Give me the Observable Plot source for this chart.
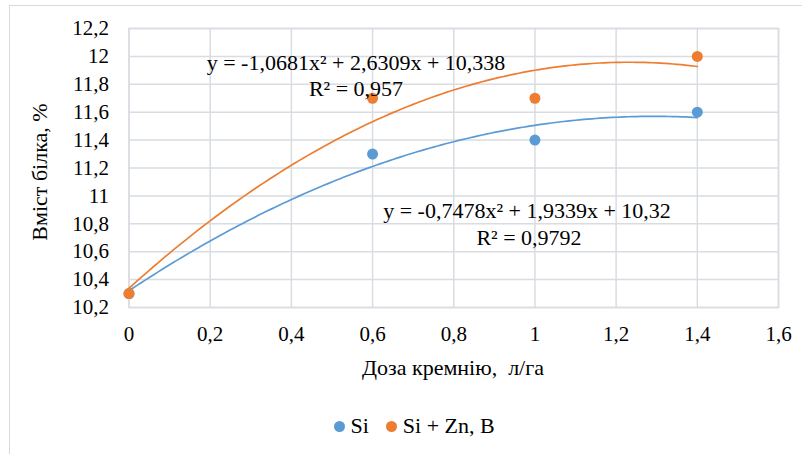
<!DOCTYPE html>
<html>
<head>
<meta charset="utf-8">
<script src="https://cdn.jsdelivr.net/npm/d3@7"></script>
<script src="https://cdn.jsdelivr.net/npm/@observablehq/plot@0.6"></script>
<style>
  body { margin: 0; background: #fff; }
  #wrap { position: relative; width: 802px; height: 454px; overflow: hidden; color: #000; font-family: 'Liberation Serif', serif; }
  #border { position: absolute; left: 9px; top: 5px; width: 900px; height: 600px; border: 1.5px solid #d9d9d9; box-sizing: border-box; }
  .lbl { position: absolute; white-space: pre; font-size: 22px; line-height: 1; text-align: center; transform: translate(-50%, -50%); font-family: 'Liberation Serif', serif; }
  #legend { position: absolute; top: 426px; left: 333.5px; transform: translateY(-50%); font-size: 22px; line-height: 1; display: flex; align-items: center; white-space: pre; font-family: 'Liberation Serif', serif; }
  .sw { display: inline-block; width: 11px; height: 11px; border-radius: 50%; }
</style>
</head>
<body>
<div id="wrap">
  <div id="border"></div>
  <div id="chart"></div>
</div>
<script>
// ---- data ----
const doses = [0, 0.6, 1, 1.4];
const siValues = [10.3, 11.3, 11.4, 11.6];
const siZnBValues = [10.3, 11.7, 11.7, 12.0];
const seriesNames = ["Si", "Si + Zn, B"];
// trendline coefficients as printed on the chart (a, b, c for ax² + bx + c)
const trendSi = [-0.7478, 1.9339, 10.32];
const trendSiZnB = [-1.0681, 2.6309, 10.338];
const trendLabels = ["y = -0,7478x² + 1,9339x + 10,32", "R² = 0,9792", "y = -1,0681x² + 2,6309x + 10,338", "R² = 0,957"];
const xTicks = [0, 0.2, 0.4, 0.6, 0.8, 1, 1.2, 1.4, 1.6];
const yTicks = [10.2, 10.4, 10.6, 10.8, 11, 11.2, 11.4, 11.6, 11.8, 12, 12.2];
const xTitle = "Доза кремнію,\u00a0 л/га";
const yTitle = "Вміст білка, %";

const colors = ["#5B9BD5", "#ED7D31"];
const gridColor = "#d9dce1";
const fmt = d => String(+d.toFixed(1)).replace(".", ",");
const FONT = "Liberation Serif";

const siPts = doses.map((x, i) => ({x, y: siValues[i]}));
const znPts = doses.map((x, i) => ({x, y: siZnBValues[i]}));
const xs = d3.range(0, 141).map(i => i / 100);
const trend = c => xs.map(x => ({x, y: c[0] * x * x + c[1] * x + c[2]}));

const chart = Plot.plot({
  width: 802,
  height: 454,
  marginLeft: 128.5,
  marginRight: 24,
  marginTop: 28,
  marginBottom: 147,
  style: {fontFamily: FONT, fontSize: "21px", background: "transparent", color: "#000"},
  x: {domain: [0, 1.6]},
  y: {domain: [10.2, 12.2]},
  marks: [
    Plot.gridY(yTicks, {stroke: gridColor, strokeOpacity: 1, strokeWidth: 1.5}),
    Plot.gridX(xTicks, {stroke: gridColor, strokeOpacity: 1, strokeWidth: 1.5}),
    Plot.frame({stroke: gridColor, strokeWidth: 1.5}),
    Plot.axisY(yTicks, {tickSize: 0, tickPadding: 20, tickFormat: fmt, fontSize: 21, label: null}),
    Plot.axisX(xTicks, {tickSize: 0, tickPadding: 19, tickFormat: fmt, fontSize: 21, label: null}),
    Plot.line(trend(trendSi), {x: "x", y: "y", stroke: colors[0], strokeWidth: 1.7}),
    Plot.line(trend(trendSiZnB), {x: "x", y: "y", stroke: colors[1], strokeWidth: 1.7}),
    Plot.dot(siPts, {x: "x", y: "y", r: 5.5, fill: colors[0]}),
    Plot.dot(znPts, {x: "x", y: "y", r: 5.5, fill: colors[1]})
  ]
});
document.getElementById("chart").appendChild(chart);

const wrap = document.getElementById("wrap");
function addLabel(text, left, top, extra) {
  const d = document.createElement("div");
  d.className = "lbl";
  d.textContent = text;
  d.style.left = left + "px";
  d.style.top = top + "px";
  if (extra) Object.assign(d.style, extra);
  wrap.appendChild(d);
}
addLabel(trendLabels[2], 356, 63);
addLabel(trendLabels[3], 356, 89);
addLabel(trendLabels[0], 527, 210.5);
addLabel(trendLabels[1], 529, 237.5);
addLabel(xTitle, 453, 368);
addLabel(yTitle, 40, 172, {transform: "translate(-50%, -50%) rotate(-90deg)"});

const lg = document.createElement("div");
lg.id = "legend";
seriesNames.forEach((n, i) => {
  const s = document.createElement("span");
  s.className = "sw";
  s.style.background = colors[i];
  s.style.marginRight = "6px";
  const t = document.createElement("span");
  t.textContent = n;
  t.style.marginRight = i === 0 ? "17px" : "0";
  lg.appendChild(s);
  lg.appendChild(t);
});
wrap.appendChild(lg);
</script>
</body>
</html>
